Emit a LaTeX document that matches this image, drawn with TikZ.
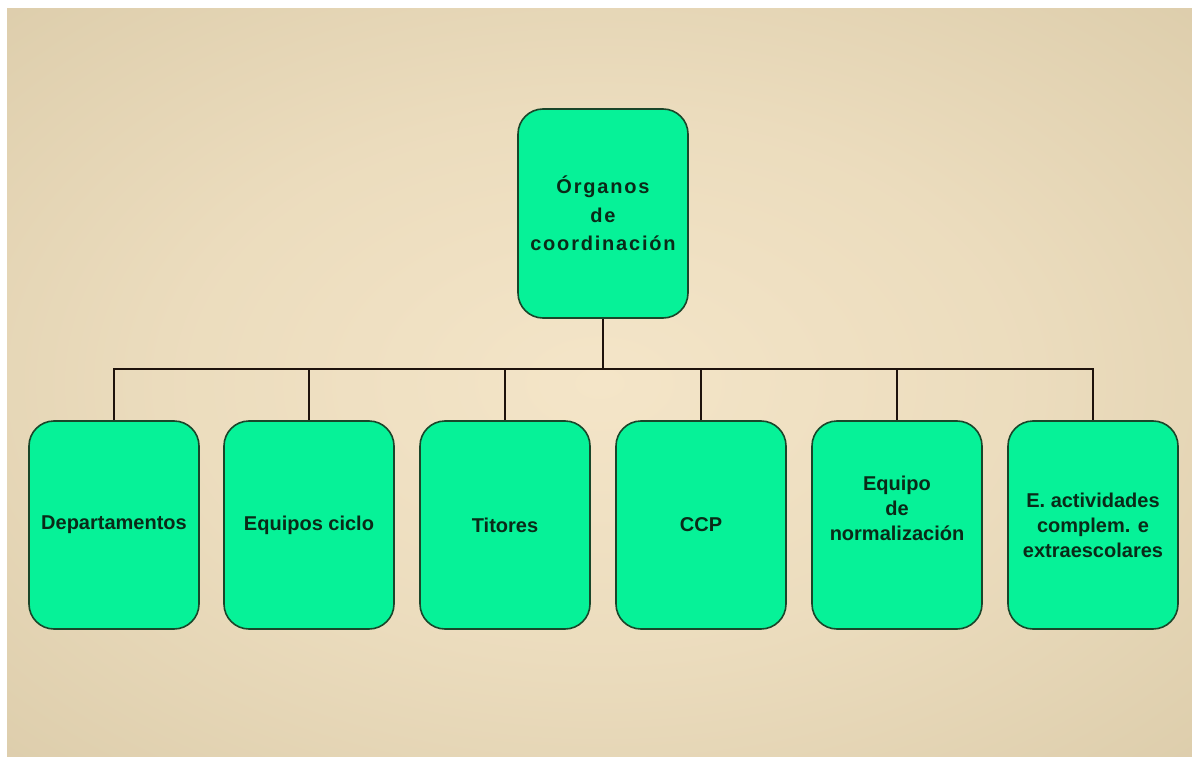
\documentclass[tikz,border=0pt]{standalone}
\usepackage{fontspec}
\setmainfont{Liberation Sans}
\newfontfamily\topfont[LetterSpace=9]{Liberation Sans}
\definecolor{bgin}{RGB}{244,229,200}
\definecolor{bgout}{RGB}{210,194,158}
\definecolor{boxfill}{RGB}{6,242,152}
\definecolor{boxline}{RGB}{25,70,42}
\definecolor{boxtext}{RGB}{10,42,24}
\definecolor{linecol}{RGB}{30,18,12}
\pgfdeclareradialshading{bgshade}{\pgfpoint{0bp}{0bp}}{color(0bp)=(bgin); color(18bp)=(bgin!75!bgout); color(50bp)=(bgout); color(75bp)=(bgout)}
\begin{document}
\begin{tikzpicture}[x=1pt,y=-1pt,
  orgbox/.style={draw=boxline, line width=1.6pt, fill=boxfill, rounded corners=25pt,
    minimum width=170pt, minimum height=208pt, inner sep=0pt, align=center,
    text=boxtext, font=\fontsize{20}{25}\selectfont\bfseries},
  topbox/.style={orgbox, minimum height=209pt, font=\topfont\fontsize{20}{28.5}\selectfont\bfseries},
  conn/.style={draw=linecol, line width=2.4pt}]
\fill[white] (0,0) rectangle (1192,757);
\shade[shading=bgshade] (7,9) rectangle (1192,757);
\useasboundingbox (0,0) rectangle (1192,757);
\node[topbox] (top) at (603,213.5) {Órganos\\de\\coordinación};
\node[orgbox] (b1) at (114,525) {Departamentos};
\node[orgbox] (b2) at (309,525) {Equipos ciclo};
\node[orgbox] (b3) at (505,525) {Titores};
\node[orgbox] (b4) at (701,525) {CCP};
\node[orgbox] (b5) at (897,525) {Equipo\\de\\normalización\\[8pt]};
\node[orgbox] (b6) at (1093,525) {E. actividades\\complem. e\\extraescolares};
\coordinate (j) at (603,369);
\draw[conn] (top.south) -- (j);
\draw[conn] (b1.north) |- (j) -| (b6.north);
\foreach \b in {b2,b3,b4,b5} \draw[conn] (\b.north) -- (\b.north |- j);
\end{tikzpicture}
\end{document}
